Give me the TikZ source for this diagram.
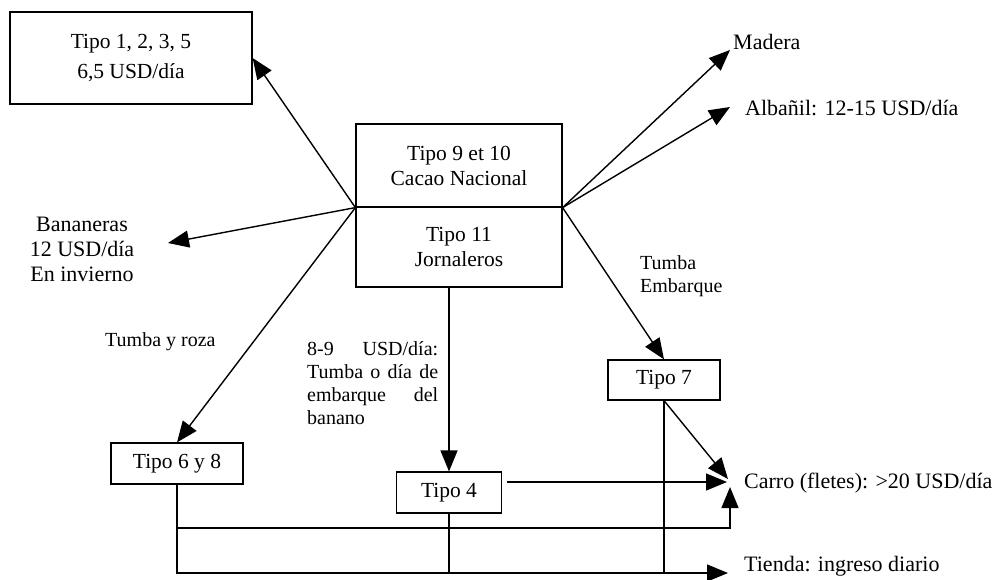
\documentclass[tikz,border=0pt]{standalone}
\usepackage{fontspec}
\setmainfont{Liberation Serif}
\usetikzlibrary{arrows.meta}
\begin{document}
\begin{tikzpicture}[x=1pt,y=-1pt,
  box/.style={draw, line width=1.2pt, inner sep=0pt, align=center, font=\fontsize{21.5}{25}\selectfont},
  big/.style={inner sep=0pt, font=\fontsize{22}{25}\selectfont},
  lbl/.style={inner sep=0pt, font=\fontsize{20}{23}\selectfont},
  arr/.style={line width=1.4pt, -{Triangle[length=21pt,width=17pt]}},
  ln/.style={line width=1.4pt}]
\useasboundingbox (0,0) rectangle (998,579);
% boxes
\node[box, minimum width=242pt, minimum height=92pt, font=\fontsize{21.5}{30}\selectfont] (b1) at (131,58) {Tipo 1, 2, 3, 5\\6,5 USD/día};
\node[box, minimum width=206pt, minimum height=83pt] (top) at (459,165.5) {Tipo 9 et 10\\Cacao Nacional};
\node[box, minimum width=206pt, minimum height=80pt] (bot) at (459,247) {Tipo 11\\Jornaleros};
\node[box, minimum width=132pt, minimum height=41pt] (t68) at (177,463.5) {Tipo 6 y 8};
\node[box, minimum width=105pt, minimum height=41pt] (t4) at (449,492.5) {Tipo 4};
\node[box, minimum width=112pt, minimum height=40pt] (t7) at (664,380) {Tipo 7};
% texts
\node[big, anchor=west] (mad) at (733,42) {Madera};
\node[big, anchor=west] (alb) at (745,108) {Albañil: 12-15 USD/día};
\node[big, anchor=west] (carro) at (744,483) {Carro (fletes): >20 USD/día};
\node[big, anchor=west] (tienda) at (744,566) {Tienda: ingreso diario};
\node[big, align=center] (ban) at (82,249) {Bananeras\\12 USD/día\\En invierno};
\node[lbl, anchor=west] (tyr) at (105,342) {Tumba y roza};
\node[lbl, anchor=west, align=left] (temb) at (640,276.5) {Tumba\\Embarque};
\node[lbl, anchor=north west, text width=131pt, align=justify] (l89) at (307,341) {\hyphenpenalty=10000 8-9 USD/día: Tumba o día de embarque del banano};
% coordinates
\coordinate (bantip) at (168,243);
\coordinate (madtip) at (730,50);
\coordinate (albtip) at (730,107);
\coordinate (c1) at (727,482);
\coordinate (c2) at (728,479);
\coordinate (c3) at (730,487);
\coordinate (k) at (730,528);
\coordinate (c4) at (728,573);
% connectors
\draw[arr] (top.south west) -- (b1.east);
\draw[arr] (top.south west) -- (bantip);
\draw[arr] (top.south west) -- (t68.north);
\draw[arr] (top.south east) -- (madtip);
\draw[arr] (top.south east) -- (albtip);
\draw[arr] (top.south east) -- (t7.north);
\draw[arr] (bot.south -| t4.north) -- (t4.north);
\draw[arr] ([xshift=5pt]t4.east |- c1) -- (c1);
\draw[arr] (t7.south) -- (c2);
\draw[arr] (t68.south) |- (k) -- (c3);
\draw[arr] (t68.south) |- (c4);
\draw[ln] (t4.south) -- (t4.south |- c4);
\draw[ln] (t7.south) -- (t7.south |- c4);
\end{tikzpicture}
\end{document}
